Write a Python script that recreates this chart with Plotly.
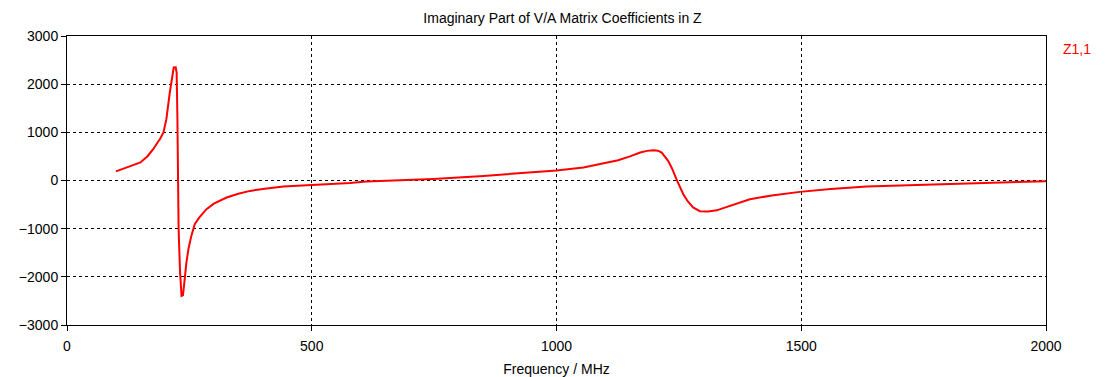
import plotly.graph_objects as go

freq_mhz = [100, 125, 150, 165, 176, 185, 190, 197, 203, 210, 215, 218, 222, 224, 225.5, 228, 231, 234,
            237, 240, 244, 248, 254, 261, 270, 285, 300, 326, 350, 374, 400, 442, 476, 500, 578, 612,
            700, 748, 851, 953, 1000, 1055, 1089, 1126, 1150, 1171, 1185, 1198, 1207, 1215, 1228, 1236,
            1245, 1252, 1259, 1268, 1279, 1293, 1310, 1327, 1360, 1395, 1440, 1497, 1560, 1634, 1770,
            1906, 2000]
z11_imag = [190, 282, 374, 510, 650, 790, 860, 996, 1273, 1827, 2150, 2346, 2350, 2240, 1341, -1011, -1910, -2395,
            -2380, -2049, -1700, -1426, -1150, -907, -770, -596, -480, -353, -275, -216, -175, -125, -108, -91, -50, -21,
            10, 33, 95, 166, 207, 270, 338, 421, 500, 581, 615, 629, 620, 581, 407, 250,
            27, -140, -284, -430, -560, -637, -645, -620, -500, -388, -310, -236, -175, -124, -83,
            -41, -15]

x_ticks = [0, 500, 1000, 1500, 2000]
y_ticks = [-3000, -2000, -1000, 0, 1000, 2000, 3000]

title_text = "Imaginary Part of V/A Matrix Coefficients in Z"
x_title = "Frequency / MHz"
series_name = "Z1,1"

fig = go.Figure()
fig.add_trace(go.Scatter(x=freq_mhz, y=z11_imag, mode="lines", name=series_name,
                         line=dict(color="#ff0000", width=2), showlegend=False))

font = dict(family="Liberation Sans", size=14, color="#000000")
axis_common = dict(showline=True, linecolor="black", linewidth=1, mirror=True,
                   ticks="outside", ticklen=5, tickcolor="black",
                   showgrid=True, gridcolor="black", gridwidth=1, griddash="3px,3px",
                   zeroline=False, tickfont=font, automargin=False)

fig.update_layout(
    width=1109, height=369,
    margin=dict(l=59, r=71, t=28, b=52),
    paper_bgcolor="white", plot_bgcolor="white",
    font=font,
    title=dict(text=title_text, x=0.5, xanchor="center", y=0.973, yanchor="middle",
               font=font),
    xaxis=dict(range=[0, 2000], tickvals=x_ticks, ticklabelstandoff=3,
               title=dict(text=x_title, standoff=16, font=font),
               **axis_common),
    yaxis=dict(range=[-3000, 3000], tickvals=y_ticks, **axis_common),
    annotations=[dict(text=series_name, xref="paper", yref="paper", x=1.015, y=0.955,
                      xanchor="left", yanchor="middle", showarrow=False,
                      font=dict(family="Liberation Sans", size=14, color="#ff0000"))],
)

fig.write_html("out.html")
